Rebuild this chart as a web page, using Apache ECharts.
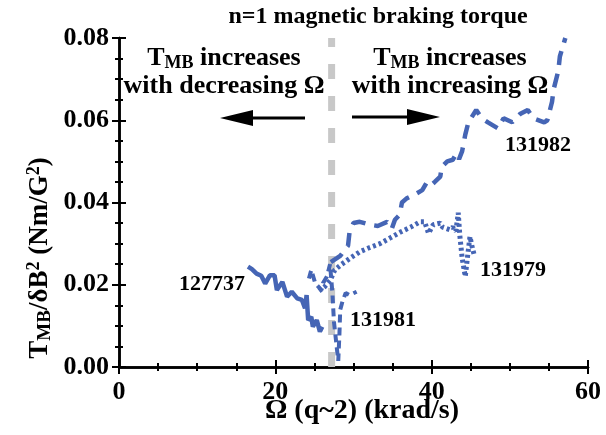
<!DOCTYPE html>
<html>
<head>
<meta charset="utf-8">
<script src="https://cdn.jsdelivr.net/npm/echarts@6/dist/echarts.min.js"></script>
<style>
  html, body { margin: 0; padding: 0; background: #fff; }
  #chart { width: 606px; height: 435px; }
</style>
</head>
<body>
<div id="chart"></div>
<script>
// rotation (krad/s), torque (Nm/G^2) pairs
const shot127737 = [
  [16.5, 0.0244], [17.0, 0.0238], [17.6, 0.0227], [18.2, 0.0222], [18.7, 0.0203],
  [19.3, 0.0223], [19.9, 0.0223], [20.2, 0.0187], [20.9, 0.0207], [21.5, 0.0171],
  [22.1, 0.0183], [22.8, 0.0167], [23.4, 0.0163], [23.8, 0.0143], [24.0, 0.0175],
  [24.2, 0.0114], [24.6, 0.0122], [24.8, 0.0098], [25.3, 0.0114], [25.7, 0.0086],
  [26.0, 0.0098]
];
const shot131981 = [
  [24.3, 0.0215], [24.6, 0.0236], [25.1, 0.0204], [25.9, 0.0187], [26.1, 0.0204],
  [26.6, 0.0220], [27.0, 0.0250], [27.3, 0.0180], [27.5, 0.0110], [27.9, 0.0040],
  [28.05, 0.0015], [28.2, 0.0080], [28.3, 0.0139], [28.6, 0.0160], [29.0, 0.0180],
  [29.5, 0.0175], [30.4, 0.0183]
];
const shot131982 = [
  [27.1, 0.0255], [28.3, 0.0270], [29.3, 0.0295], [29.5, 0.0330], [30.0, 0.0350],
  [30.8, 0.0353], [32.1, 0.0346], [33.1, 0.0343], [34.3, 0.0353], [34.9, 0.0336],
  [35.3, 0.0358], [35.9, 0.0370], [36.2, 0.0400], [36.8, 0.0410], [37.9, 0.0420],
  [38.8, 0.0430], [39.4, 0.0450], [40.0, 0.0443], [40.4, 0.0450], [41.1, 0.0463],
  [41.3, 0.0487], [42.0, 0.0500], [42.7, 0.0504], [43.2, 0.0520], [43.5, 0.0505],
  [43.9, 0.0525], [44.3, 0.0565], [44.7, 0.0595], [45.7, 0.0625], [46.4, 0.0605],
  [47.2, 0.0595], [48.5, 0.0580], [49.2, 0.0605], [50.3, 0.0595], [51.3, 0.0615],
  [52.3, 0.0625], [53.0, 0.0605], [54.4, 0.0595], [54.8, 0.0600], [55.4, 0.0645],
  [55.6, 0.0675], [56.2, 0.0720], [56.4, 0.0755], [57.1, 0.0800]
];
const shot131979 = [
  [25.6, 0.0185], [26.3, 0.0195], [27.0, 0.0210], [27.6, 0.0236], [28.5, 0.0250],
  [29.6, 0.0265], [30.8, 0.0280], [32.0, 0.0290], [33.4, 0.0300], [34.7, 0.0314],
  [36.0, 0.0328], [37.3, 0.0340], [38.5, 0.0353], [39.1, 0.0353], [39.6, 0.0325],
  [40.2, 0.0346], [41.1, 0.0350], [41.4, 0.0340], [42.3, 0.0334], [42.7, 0.0340],
  [43.1, 0.0330], [43.4, 0.0375], [43.6, 0.0320], [43.9, 0.0265], [44.3, 0.0220],
  [44.6, 0.0270], [44.9, 0.0317], [45.2, 0.0290], [45.5, 0.0268]
];
const omegaMarker = [[27.2, 0], [27.2, 0.08]];
const xTicks = [0, 20, 40, 60];
const yTicks = [0, 0.02, 0.04, 0.06, 0.08];

const FONT = 'Liberation Serif';
const BLUE = '#4565b5';

const chart = echarts.init(document.getElementById('chart'));

const axisBase = {
  axisLine: { lineStyle: { color: '#000', width: 2.5 } },
  axisTick: { inside: true, length: 7, lineStyle: { color: '#000', width: 2 } },
  minorTick: { show: true, splitNumber: 4, length: 4, lineStyle: { color: '#000', width: 2 } },
  splitLine: { show: false },
  minorSplitLine: { show: false }
};
const labelStyle = { color: '#000', fontFamily: FONT, fontWeight: 'bold', fontSize: 26, margin: 10 };

function seriesLine(name, data, dash, width) {
  return {
    name: name,
    type: 'line',
    data: data,
    showSymbol: false,
    symbol: 'none',
    z: 3,
    lineStyle: { color: BLUE, width: width, type: dash, cap: 'butt' }
  };
}

chart.setOption({
  animation: false,
  grid: { left: 119, right: 18, top: 38, bottom: 68 },
  xAxis: [
    Object.assign({
      type: 'value', position: 'bottom', min: xTicks[0], max: xTicks[xTicks.length - 1],
      interval: xTicks[1] - xTicks[0],
      axisLabel: Object.assign({}, labelStyle, { margin: 12 })
    }, axisBase),
    Object.assign({
      type: 'value', position: 'top', min: xTicks[0], max: xTicks[xTicks.length - 1],
      interval: xTicks[1] - xTicks[0],
      axisLabel: { show: false }
    }, axisBase)
  ],
  yAxis: [
    Object.assign({
      type: 'value', position: 'left', min: yTicks[0], max: yTicks[yTicks.length - 1],
      interval: yTicks[1] - yTicks[0],
      axisLabel: Object.assign({}, labelStyle, { formatter: v => v.toFixed(2) })
    }, axisBase),
    Object.assign({
      type: 'value', position: 'right', min: yTicks[0], max: yTicks[yTicks.length - 1],
      interval: yTicks[1] - yTicks[0],
      axisLabel: { show: false }
    }, axisBase)
  ],
  series: [
    {
      type: 'line',
      data: omegaMarker,
      symbol: 'none',
      z: 1,
      lineStyle: { color: '#c8c8c8', width: 7, type: [15, 17], cap: 'butt' }
    },
    seriesLine('127737', shot127737, 'solid', 4.5),
    seriesLine('131981', shot131981, [8, 5], 4),
    seriesLine('131982', shot131982, [14, 9], 4.5),
    seriesLine('131979', shot131979, [3, 3], 5)
  ],
  graphic: [
    {
      type: 'text', x: 378, y: 17,
      style: { text: 'n=1 magnetic braking torque', font: 'bold 24px "Liberation Serif"', fill: '#000', align: 'center', verticalAlign: 'middle' }
    },
    {
      type: 'text', x: 362, y: 411,
      style: { text: 'Ω (q~2) (krad/s)', font: 'bold 28px "Liberation Serif"', fill: '#000', align: 'center', verticalAlign: 'middle' }
    },
    {
      type: 'text', x: 40, y: 258, rotation: Math.PI / 2,
      style: {
        text: '{a|T}{b|MB}{a|/δB}{c|2}{a| (Nm/G}{c|2}{a|)}',
        align: 'center', verticalAlign: 'middle',
        rich: {
          a: { fontFamily: FONT, fontWeight: 'bold', fontSize: 27, lineHeight: 30, fill: '#000' },
          b: { fontFamily: FONT, fontWeight: 'bold', fontSize: 19, lineHeight: 19, verticalAlign: 'bottom', fill: '#000' },
          c: { fontFamily: FONT, fontWeight: 'bold', fontSize: 18, lineHeight: 18, verticalAlign: 'top', fill: '#000' }
        }
      }
    },
    {
      type: 'text', x: 224, y: 72,
      style: {
        text: '{a|T}{b|MB}{a| increases}\n{a|with decreasing Ω}',
        align: 'center', verticalAlign: 'middle',
        rich: {
          a: { fontFamily: FONT, fontWeight: 'bold', fontSize: 26, lineHeight: 28, fill: '#000', align: 'center' },
          b: { fontFamily: FONT, fontWeight: 'bold', fontSize: 18, lineHeight: 18, verticalAlign: 'bottom', fill: '#000' }
        }
      }
    },
    {
      type: 'text', x: 450, y: 72,
      style: {
        text: '{a|T}{b|MB}{a| increases}\n{a|with increasing Ω}',
        align: 'center', verticalAlign: 'middle',
        rich: {
          a: { fontFamily: FONT, fontWeight: 'bold', fontSize: 26, lineHeight: 28, fill: '#000', align: 'center' },
          b: { fontFamily: FONT, fontWeight: 'bold', fontSize: 18, lineHeight: 18, verticalAlign: 'bottom', fill: '#000' }
        }
      }
    },
    { type: 'line', shape: { x1: 305, y1: 118, x2: 250, y2: 118 }, style: { stroke: '#000', lineWidth: 3 } },
    { type: 'polygon', shape: { points: [[220, 118], [253, 110], [253, 126]] }, style: { fill: '#000' } },
    { type: 'line', shape: { x1: 352, y1: 117, x2: 410, y2: 117 }, style: { stroke: '#000', lineWidth: 3 } },
    { type: 'polygon', shape: { points: [[440, 117], [407, 109], [407, 125]] }, style: { fill: '#000' } },
    {
      type: 'text', x: 212, y: 284,
      style: { text: '127737', font: 'bold 22px "Liberation Serif"', fill: '#000', align: 'center', verticalAlign: 'middle' }
    },
    {
      type: 'text', x: 383, y: 320,
      style: { text: '131981', font: 'bold 22px "Liberation Serif"', fill: '#000', align: 'center', verticalAlign: 'middle' }
    },
    {
      type: 'text', x: 513, y: 270,
      style: { text: '131979', font: 'bold 22px "Liberation Serif"', fill: '#000', align: 'center', verticalAlign: 'middle' }
    },
    {
      type: 'text', x: 538, y: 145,
      style: { text: '131982', font: 'bold 22px "Liberation Serif"', fill: '#000', align: 'center', verticalAlign: 'middle' }
    }
  ]
});
</script>
</body>
</html>
